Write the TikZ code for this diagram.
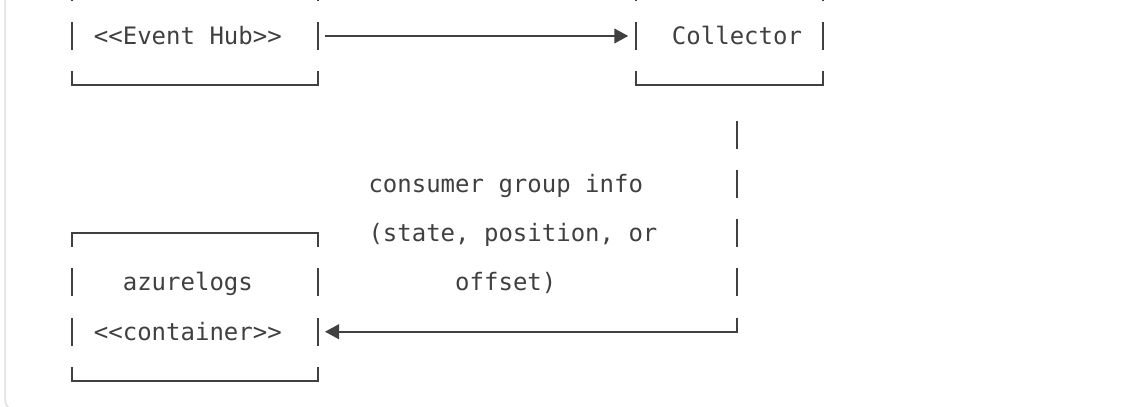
\documentclass[tikz,border=0pt]{standalone}
\usepackage{fontspec}
\setmonofont{DejaVu Sans Mono}
\usetikzlibrary{arrows.meta,positioning,fit}
\definecolor{ink}{HTML}{404040}
\definecolor{panegray}{HTML}{E2E2E2}
\tikzset{
  cellbox/.style={rectangle,inner sep=0pt,outer sep=0pt},
  txt/.style={font=\ttfamily\fontsize{18}{20}\selectfont,text=ink,inner sep=0pt,anchor=west,text height=16.7pt,text depth=4.25pt},
  hline/.style={draw=ink,line width=1.5pt,line cap=rect},
  vline/.style={draw=ink,line width=1.5pt,dash pattern=on 20.95pt off 16.025pt,dash phase=10.475pt},
  arr/.style={-{Triangle[length=10.5pt,width=11pt]},draw=ink,line width=1.5pt,shorten >=5.5pt},
  codepane/.style={draw=panegray,line width=1.3pt,rounded corners=6pt}
}
\frenchspacing
\begin{document}
\begin{tikzpicture}[x=10.84pt,y=-36.975pt]
  \useasboundingbox (-4.983,0.270) rectangle (72.73,8.525);
  \clip (-4.983,0.270) rectangle (72.73,8.525);
  % code block pane
  \draw[codepane] (-4.62,-1) rectangle (80,8.565);

  % Event Hub box
  \node[cellbox, fit={(0,0) (17,2)}] (hub) {};
  \node[txt] (hubname) at (1.5,1) {<<Event Hub>>};

  % Collector box
  \node[cellbox, fit={(39,0) (52,2)}] (coll) {};
  \node[txt] (collname) at (41.5,1) {Collector};

  % azurelogs container box
  \node[cellbox, fit={(0,5) (17,8)}] (store) {};
  \node[txt] (storename) at (3.5,6) {azurelogs};
  \node[txt] (storekind) at (1.5,7) {<<container>>};

  % consumer group info label
  \node[txt] (info1) at (20.5,4) {consumer group info};
  \node[txt] (info2) at (20.5,5) {(state, position, or};
  \node[txt] (info3) at (26.5,6) {offset)};

  % Box outlines
  \foreach \b in {hub,coll,store}{
    \draw[hline] (\b.north west) -- (\b.north east);
    \draw[hline] (\b.south west) -- (\b.south east);
    \draw[vline] (\b.north west) -- (\b.south west);
    \draw[vline] (\b.north east) -- (\b.south east);
  }

  % Connectors
  \coordinate (bend) at (46,7);
  \draw[arr, shorten <=5.4pt] (hub.east) -- (coll.west);
  \draw[vline, dash phase=0pt, shorten <=26.5pt] (coll.south -| bend) -- (bend);
  \draw[arr, line cap=rect] (bend) -- (store.east |- bend);
\end{tikzpicture}
\end{document}
